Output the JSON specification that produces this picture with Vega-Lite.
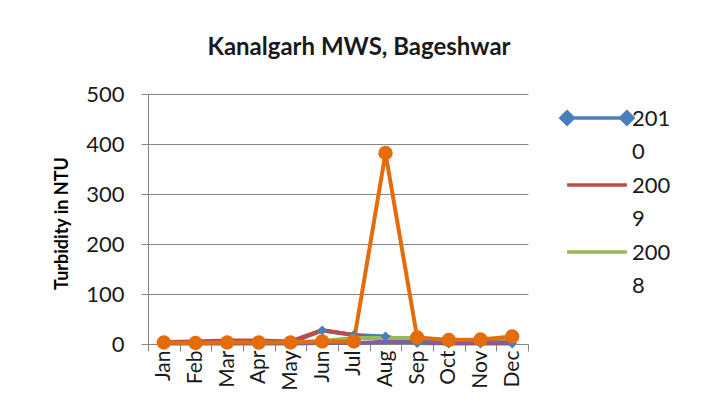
{
  "$schema": "https://vega.github.io/schema/vega-lite/v6.json",
  "width": 380,
  "height": 250,
  "autosize": {"type": "none"},
  "padding": {"left": 148, "top": 94, "right": 186, "bottom": 72},
  "background": "white",
  "config": {
    "view": {"stroke": null},
    "font": "Lato",
    "axis": {"labelFont": "Lato", "titleFont": "Lato", "labelColor": "#1a1a1a", "titleColor": "#000000"}
  },
  "title": {
    "text": "Kanalgarh MWS, Bageshwar",
    "font": "Lato",
    "fontSize": 24,
    "fontWeight": "bold",
    "color": "#1a1a1a",
    "anchor": "middle",
    "frame": "group",
    "baseline": "alphabetic",
    "dx": 21,
    "offset": 4
  },
  "data": {
    "values": [
      {"series": "2010", "month": "Jan", "value": 2},
      {"series": "2010", "month": "Feb", "value": 2},
      {"series": "2010", "month": "Mar", "value": 3},
      {"series": "2010", "month": "Apr", "value": 2},
      {"series": "2010", "month": "May", "value": 2},
      {"series": "2010", "month": "Jun", "value": 27},
      {"series": "2010", "month": "Jul", "value": 18},
      {"series": "2010", "month": "Aug", "value": 15},
      {"series": "2010", "month": "Sep", "value": 2},
      {"series": "2010", "month": "Oct", "value": 1},
      {"series": "2010", "month": "Nov", "value": 1},
      {"series": "2010", "month": "Dec", "value": 1},
      {"series": "2009", "month": "Jan", "value": 4},
      {"series": "2009", "month": "Feb", "value": 5},
      {"series": "2009", "month": "Mar", "value": 7},
      {"series": "2009", "month": "Apr", "value": 7},
      {"series": "2009", "month": "May", "value": 5},
      {"series": "2009", "month": "Jun", "value": 28},
      {"series": "2009", "month": "Jul", "value": 18},
      {"series": "2009", "month": "Aug", "value": 8},
      {"series": "2009", "month": "Sep", "value": 4},
      {"series": "2009", "month": "Oct", "value": 2},
      {"series": "2009", "month": "Nov", "value": 2},
      {"series": "2009", "month": "Dec", "value": 2},
      {"series": "2008", "month": "Jan", "value": 2},
      {"series": "2008", "month": "Feb", "value": 2},
      {"series": "2008", "month": "Mar", "value": 2},
      {"series": "2008", "month": "Apr", "value": 2},
      {"series": "2008", "month": "May", "value": 3},
      {"series": "2008", "month": "Jun", "value": 6},
      {"series": "2008", "month": "Jul", "value": 12},
      {"series": "2008", "month": "Aug", "value": 12},
      {"series": "2008", "month": "Sep", "value": 12},
      {"series": "2008", "month": "Oct", "value": 8},
      {"series": "2008", "month": "Nov", "value": 8},
      {"series": "2008", "month": "Dec", "value": 8},
      {"series": "2007", "month": "Jan", "value": 1},
      {"series": "2007", "month": "Feb", "value": 1},
      {"series": "2007", "month": "Mar", "value": 1},
      {"series": "2007", "month": "Apr", "value": 1},
      {"series": "2007", "month": "May", "value": 1},
      {"series": "2007", "month": "Jun", "value": 2},
      {"series": "2007", "month": "Jul", "value": 2},
      {"series": "2007", "month": "Aug", "value": 4},
      {"series": "2007", "month": "Sep", "value": 4},
      {"series": "2007", "month": "Oct", "value": 3},
      {"series": "2007", "month": "Nov", "value": 3},
      {"series": "2007", "month": "Dec", "value": 3},
      {"series": "2006", "month": "Jan", "value": 3},
      {"series": "2006", "month": "Feb", "value": 2},
      {"series": "2006", "month": "Mar", "value": 3},
      {"series": "2006", "month": "Apr", "value": 3},
      {"series": "2006", "month": "May", "value": 3},
      {"series": "2006", "month": "Jun", "value": 5},
      {"series": "2006", "month": "Jul", "value": 5},
      {"series": "2006", "month": "Aug", "value": 382},
      {"series": "2006", "month": "Sep", "value": 13},
      {"series": "2006", "month": "Oct", "value": 8},
      {"series": "2006", "month": "Nov", "value": 9},
      {"series": "2006", "month": "Dec", "value": 15}
    ]
  },
  "encoding": {
    "x": {
      "field": "month",
      "type": "ordinal",
      "sort": ["Jan", "Feb", "Mar", "Apr", "May", "Jun", "Jul", "Aug", "Sep", "Oct", "Nov", "Dec"],
      "bandPosition": 0.5,
      "scale": {"type": "band", "paddingInner": 0, "paddingOuter": 0},
      "axis": {
        "title": null,
        "labelAngle": -90,
        "labelFontSize": 21,
        "labelPadding": -1,
        "tickBand": "extent",
        "ticks": true,
        "tickSize": 7,
        "tickColor": "#868686",
        "domainColor": "#868686",
        "grid": false
      }
    },
    "y": {
      "field": "value",
      "type": "quantitative",
      "scale": {"domain": [0, 500], "nice": false},
      "axis": {
        "title": "Turbidity in NTU",
        "titleFontSize": 18,
        "titleFontWeight": "bold",
        "titleAngle": -90,
        "titleAlign": "center",
        "titleBaseline": "middle",
        "titleX": -86,
        "titleY": 129,
        "values": [0, 100, 200, 300, 400, 500],
        "labelFontSize": 22,
        "labelPadding": 17,
        "tickSize": 7,
        "tickColor": "#868686",
        "domainColor": "#868686",
        "grid": true,
        "gridColor": "#868686",
        "gridWidth": 1
      }
    },
    "color": {
      "field": "series",
      "type": "nominal",
      "scale": {
        "domain": ["2010", "2009", "2008", "2007", "2006"],
        "range": ["#4A7EBB", "#BE4B48", "#98B954", "#7D60A0", "#E46C0A"]
      },
      "legend": {
        "values": ["2010", "2009", "2008"],
        "title": null,
        "orient": "none",
        "legendX": 429,
        "legendY": 4,
        "padding": 0,
        "symbolSize": 1296,
        "symbolStrokeWidth": 3.5,
        "labelFontSize": 22,
        "labelFont": "Lato",
        "labelColor": "#1a1a1a",
        "labelOffset": 15,
        "labelLimit": 0,
        "labelExpr": "[substring(datum.label, 0, 3), substring(datum.label, 3)]",
        "labelBaseline": "alphabetic",
        "rowPadding": 2,
        "encode": {
          "symbols": {
            "update": {
              "shape": {"signal": "datum.value === '2010' ? 'M-1.66,0L1.66,0M-2,0L-1.66,-0.34L-1.32,0L-1.66,0.34ZM1.32,0L1.66,-0.34L2,0L1.66,0.34Z' : 'M-1.66,0L1.66,0'"},
              "stroke": {"scale": "color", "field": "value"},
              "fill": {"signal": "datum.value === '2010' ? '#4A7EBB' : 'transparent'"},
              "strokeWidth": {"value": 3.5},
              "opacity": {"value": 1}
            }
          },
          "labels": {
            "update": {
              "lineHeight": {"value": 33},
              "dy": {"value": 8}
            }
          }
        }
      }
    }
  },
  "layer": [
    {"mark": {"type": "line", "strokeWidth": 4}},
    {
      "transform": [{"filter": "datum.series === '2010'"}],
      "mark": {"type": "point", "shape": "diamond", "filled": true, "size": 100, "opacity": 1}
    },
    {
      "transform": [{"filter": "datum.series === '2006'"}],
      "mark": {"type": "point", "shape": "circle", "filled": true, "size": 210, "opacity": 1}
    }
  ]
}
